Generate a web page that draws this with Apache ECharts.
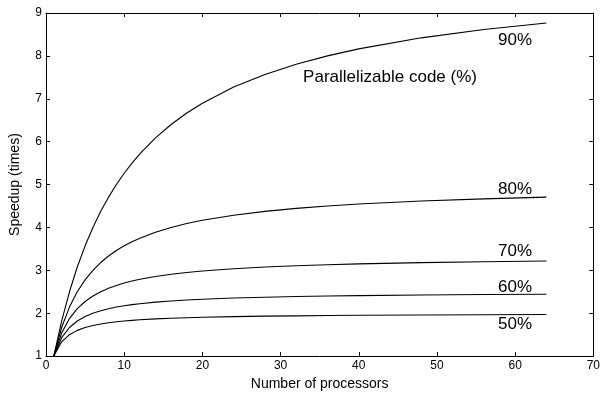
<!DOCTYPE html>
<html><head><meta charset="utf-8">
<script src="https://cdn.jsdelivr.net/npm/echarts@6/dist/echarts.min.js"></script>
<style>html,body{margin:0;padding:0;background:#fff}#c{width:603px;height:396px}</style>
</head><body><div id="c"></div>
<script>
const processors = [1,2,3,4,5,6,7,8,9,10,11,12,14,16,18,20,24,28,32,36,40,48,56,64];
const s90 = [1,1.818,2.5,3.077,3.571,4.0,4.375,4.706,5.0,5.263,5.5,5.714,6.087,6.4,6.667,6.897,7.273,7.568,7.805,8.0,8.163,8.421,8.615,8.767];
const s80 = [1,1.667,2.143,2.5,2.778,3.0,3.182,3.333,3.462,3.571,3.667,3.75,3.889,4.0,4.091,4.167,4.286,4.375,4.444,4.5,4.545,4.615,4.667,4.706];
const s70 = [1,1.538,1.875,2.105,2.273,2.4,2.5,2.581,2.647,2.703,2.75,2.791,2.857,2.909,2.951,2.985,3.038,3.077,3.107,3.13,3.15,3.179,3.2,3.216];
const s60 = [1,1.429,1.667,1.818,1.923,2.0,2.059,2.105,2.143,2.174,2.2,2.222,2.258,2.286,2.308,2.326,2.353,2.373,2.388,2.4,2.41,2.424,2.435,2.443];
const s50 = [1,1.333,1.5,1.6,1.667,1.714,1.75,1.778,1.8,1.818,1.833,1.846,1.867,1.882,1.895,1.905,1.92,1.931,1.939,1.946,1.951,1.959,1.965,1.969];
const seriesNames = ['90%','80%','70%','60%','50%'];
const annotation = 'Parallelizable code (%)';
const xTicks = [0,10,20,30,40,50,60,70];
const yTicks = [1,2,3,4,5,6,7,8,9];

const font = '"Liberation Sans", Arial, Helvetica, sans-serif';
const labelPos = [[60,8.37],[60,4.88],[60,3.44],[60,2.60],[60,1.74]];
const annotationPos = [44,7.49];
const all = [s90,s80,s70,s60,s50];
const chart = echarts.init(document.getElementById('c'));
const axisCommon = {
  axisLine:{show:true,onZero:false,lineStyle:{color:'#000',width:1}},
  axisTick:{show:true,inside:true,length:4,lineStyle:{color:'#000'}},
  splitLine:{show:false}
};
const series = all.map((arr,i)=>({
  type:'line', name:seriesNames[i], data:processors.map((n,j)=>[n,arr[j]]),
  showSymbol:false, smooth:false,
  lineStyle:{color:'#000',width:1.1}, silent:true
}));
const textData = labelPos.map((p,i)=>({value:p, name:seriesNames[i]}));
textData.push({value:annotationPos, name:annotation});
series.push({
  type:'scatter', silent:true, symbolSize:1, itemStyle:{color:'#fff',opacity:0},
  data:textData,
  label:{show:true, position:'inside', formatter:p=>p.name, color:'#000', opacity:1,
    textBorderWidth:0, fontSize:17, fontFamily:font}
});
chart.setOption({
  animation:false,
  backgroundColor:'#fff',
  grid:{left:44,right:4,top:13,bottom:39,containLabel:false},
  xAxis:[
    Object.assign({type:'value',min:0,max:70,interval:10,position:'bottom',
      name:'Number of processors',nameLocation:'middle',nameGap:17,
      nameTextStyle:{color:'#000',fontSize:14,fontFamily:font},
      axisLabel:{color:'#000',fontSize:12,fontFamily:font,margin:4,
        formatter:v=>xTicks.includes(v)?String(v):''}},axisCommon),
    Object.assign({type:'value',min:0,max:70,interval:10,position:'top',axisLabel:{show:false}},axisCommon)
  ],
  yAxis:[
    Object.assign({type:'value',min:1,max:9,interval:1,position:'left',
      name:'Speedup (times)',nameLocation:'middle',nameGap:24,
      nameTextStyle:{color:'#000',fontSize:14,fontFamily:font},
      axisLabel:{color:'#000',fontSize:12,fontFamily:font,margin:4,
        formatter:v=>yTicks.includes(v)?String(v):''}},axisCommon),
    Object.assign({type:'value',min:1,max:9,interval:1,position:'right',axisLabel:{show:false}},axisCommon)
  ],
  series:series
});
</script></body></html>
